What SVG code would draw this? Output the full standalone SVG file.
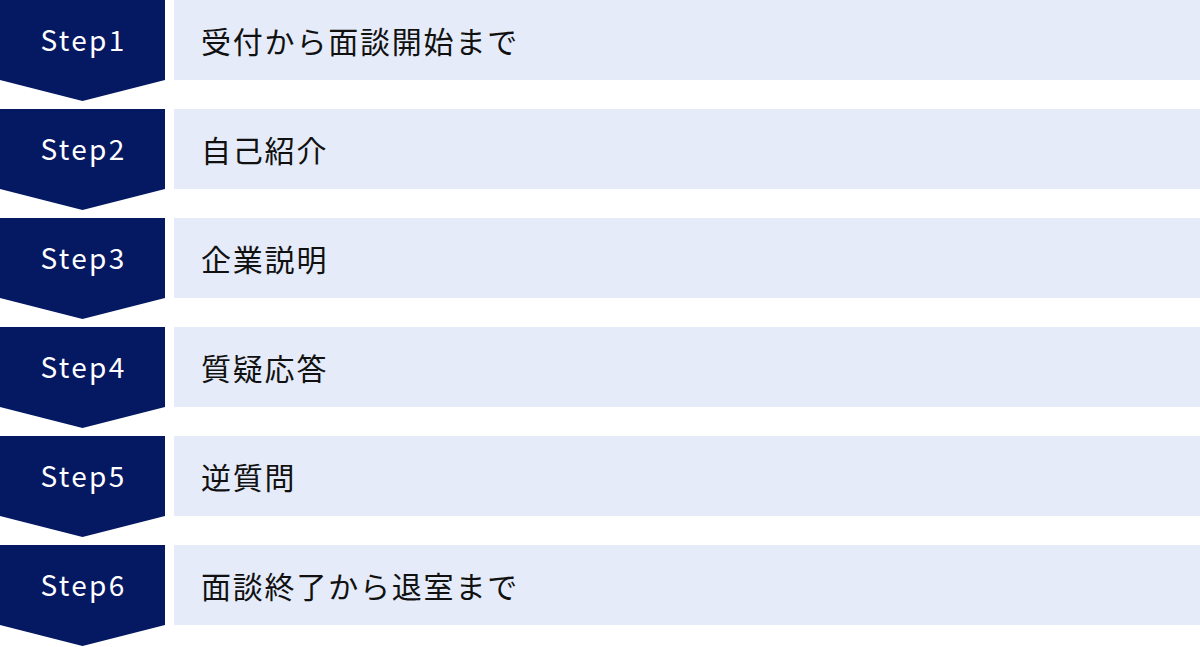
<svg xmlns="http://www.w3.org/2000/svg" width="1200" height="647" viewBox="0 0 1200 647">
<defs>
<style>
.chev{fill:#051862}
.box{fill:#E5EBF8}
.st{font-family:"Noto Sans CJK JP","Noto Sans",sans-serif;font-size:28px;fill:#ffffff;letter-spacing:2.3px;text-anchor:middle}
.lb{font-family:"Noto Sans CJK JP","Noto Sans",sans-serif;font-size:30px;fill:#111111;letter-spacing:1.8px}
</style>
<path id="chevron" d="M0 0H165V80L82.5 101L0 80Z"/>
</defs>
<rect width="1200" height="647" fill="#ffffff"/>
<g id="step1" transform="translate(0,0)">
<use href="#chevron" class="chev"/><rect class="box" x="174" y="0" width="1026" height="80"/>
<text class="st" x="83.5" y="50.5">Step1</text><text class="lb" x="201" y="52.5">受付から面談開始まで</text>
</g>
<g id="step2" transform="translate(0,109)">
<use href="#chevron" class="chev"/><rect class="box" x="174" y="0" width="1026" height="80"/>
<text class="st" x="83.5" y="50.5">Step2</text><text class="lb" x="201" y="52.5">自己紹介</text>
</g>
<g id="step3" transform="translate(0,218)">
<use href="#chevron" class="chev"/><rect class="box" x="174" y="0" width="1026" height="80"/>
<text class="st" x="83.5" y="50.5">Step3</text><text class="lb" x="201" y="52.5">企業説明</text>
</g>
<g id="step4" transform="translate(0,327)">
<use href="#chevron" class="chev"/><rect class="box" x="174" y="0" width="1026" height="80"/>
<text class="st" x="83.5" y="50.5">Step4</text><text class="lb" x="201" y="52.5">質疑応答</text>
</g>
<g id="step5" transform="translate(0,436)">
<use href="#chevron" class="chev"/><rect class="box" x="174" y="0" width="1026" height="80"/>
<text class="st" x="83.5" y="50.5">Step5</text><text class="lb" x="201" y="52.5">逆質問</text>
</g>
<g id="step6" transform="translate(0,545)">
<use href="#chevron" class="chev"/><rect class="box" x="174" y="0" width="1026" height="80"/>
<text class="st" x="83.5" y="50.5">Step6</text><text class="lb" x="201" y="52.5">面談終了から退室まで</text>
</g>
<g id="connectors"></g>
</svg>
